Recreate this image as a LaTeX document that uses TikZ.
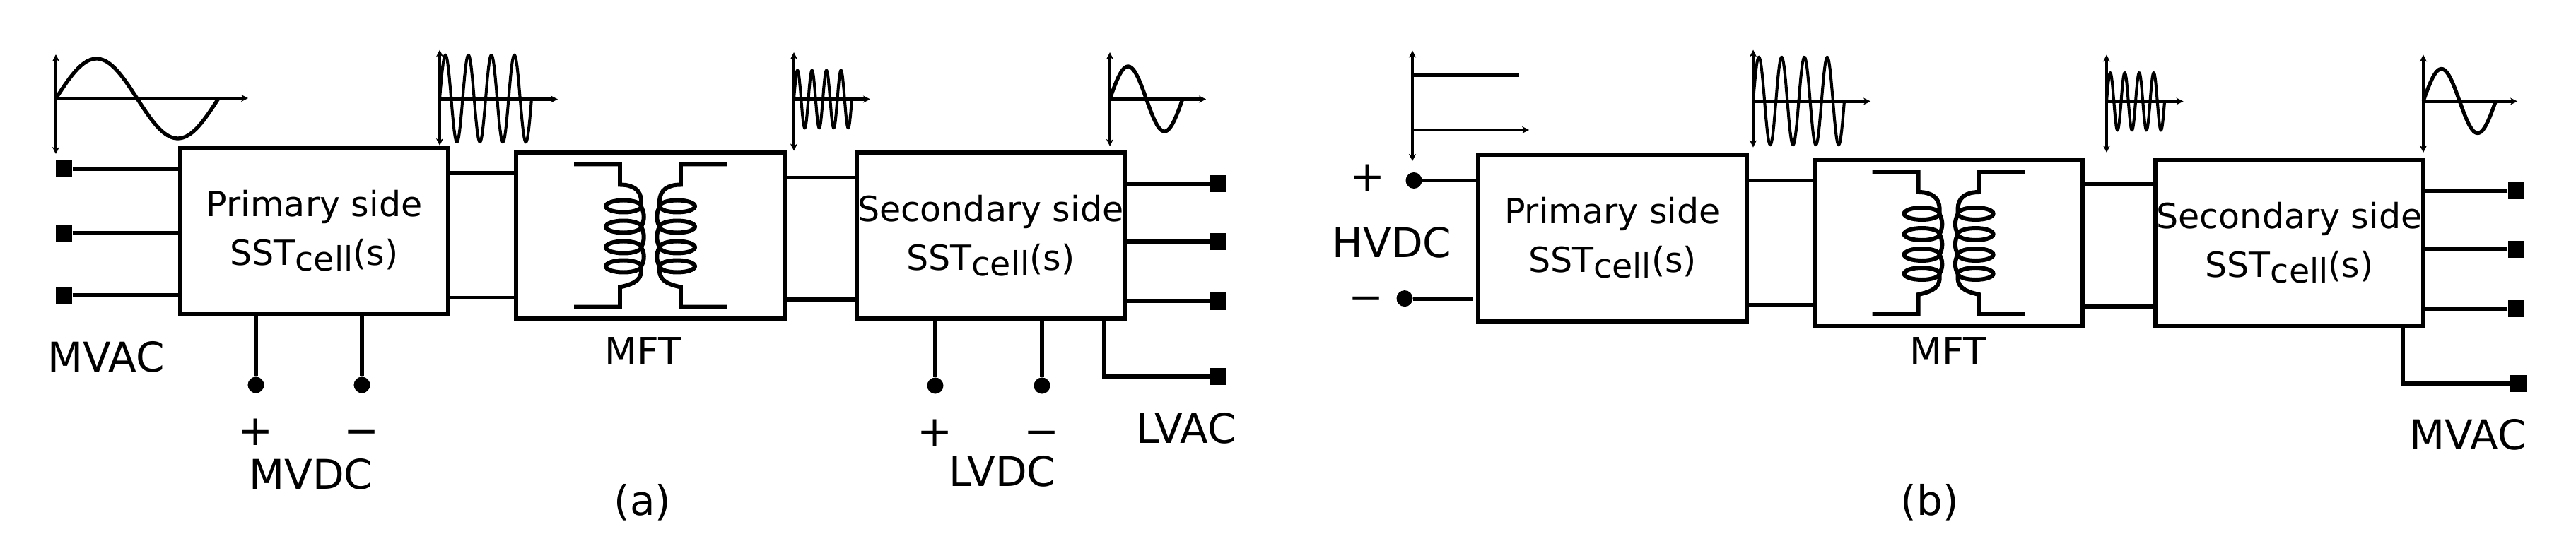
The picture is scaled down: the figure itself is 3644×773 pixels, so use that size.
\documentclass[tikz,border=0pt]{standalone}
\usepackage{fontspec}
\setmainfont{DejaVu Sans}
\usetikzlibrary{arrows.meta}

\newcommand{\mycell}{SST\raisebox{-2.4pt}{\fontsize{13.5}{13.5}\selectfont cell}(s)} % подпись ячейки
% ось: x, верх, низ, y нуля, конец
\newcommand{\myaxes}[5]{\draw[myaxis, {Stealth[length=1mm,width=1mm]}-{Stealth[length=1mm,width=1mm]}] (#1,#2) -- (#1,#3);
    \draw[myaxis, -{Stealth[length=1mm,width=1mm]}] (#1,#4) -- (#5,#4);}
% синус: x, y нуля, период, амплитуда, число периодов, стиль
\newcommand{\mywave}[6]{\draw[#6] plot[domain=0:360*#5, samples=60*#5, smooth] ({#1+\x/360*#3},{#2-#4*sin(\x)});}
% половина обмотки, начало координат в центре трансформатора
\newcommand{\mycoil}{\draw[mywire] (-108,-101) -- (-43,-101) -- (-43,-72) .. controls (-25,-72) and (-13,-65) .. (-13,-48) -- (-13,-41)
        .. controls (-8,-31) and (-8,-22) .. (-13,-12.5) .. controls (-8,-3) and (-8,7) .. (-13,16.5)
        .. controls (-8,25) and (-8,35) .. (-13,43.5) -- (-13,50) .. controls (-13,66) and (-30,70) .. (-43,73) -- (-43,101) -- (-108,101);
    \foreach \yc in {-41.5,-12.5,16.5,43.5} \draw[mywire] (-38,\yc) ellipse [x radius=25, y radius=8.5];}

\begin{document}
\begin{tikzpicture}[x=0.01cm, y=-0.01cm]
\tikzstyle{myaxis} = [line width=1.2pt] % оси
\tikzstyle{mywire} = [line width=1.7pt] % провода
\tikzstyle{mysine} = [line width=1.5pt] % низкая частота
\tikzstyle{myhf} = [line width=1.15pt] % высокая частота
\tikzstyle{mybox} = [draw, line width=1.7pt, minimum width=3.79cm, minimum height=2.35cm, inner sep=0pt, align=center, font=\fontsize{13.95}{19.6}\selectfont] % блок
\tikzstyle{mysquare} = [fill, minimum width=0.23cm, minimum height=0.24cm, inner sep=0pt] % клемма AC
\tikzstyle{mydot} = [circle, fill, minimum size=0.23cm, inner sep=0pt] % клемма DC
\tikzstyle{mylabel} = [inner sep=0pt, font=\fontsize{16.5}{20}\selectfont] % подписи
\tikzstyle{mysign} = [inner sep=0pt, text height=10.7pt, text depth=0pt, font=\fontsize{17}{20}\selectfont] % знаки
\useasboundingbox (0,0) rectangle (3644,773);

% схема (a)
\node[mybox] (pa) at (444.5,327) {Primary side\\\mycell};
\node[mybox] (ma) at (920,333.5) {};
\node[mybox] (sa) at (1401.5,333.5) {Secondary side\\\mycell};
\node[mysquare] (i1) at (90.5,239) {};
\node[mysquare] (i2) at (90.5,330) {};
\node[mysquare] (i3) at (90.5,418) {};
\foreach \n in {i1,i2,i3} \draw[mywire] (\n) -- (\n -| pa.west);
\coordinate (c1) at (680,245);
\coordinate (c2) at (680,421.5);
\coordinate (c3) at (1160,251.5);
\coordinate (c4) at (1160,424);
\draw[mywire] (c1 -| pa.east) -- (c1 -| ma.west);
\draw[mywire] (c2 -| pa.east) -- (c2 -| ma.west);
\draw[mywire] (c3 -| ma.east) -- (c3 -| sa.west);
\draw[mywire] (c4 -| ma.east) -- (c4 -| sa.west);
\begin{scope}[shift={(ma.center)}]
    \mycoil
    \begin{scope}[xscale=-1] \mycoil \end{scope}
\end{scope}
\node[mydot] (d1) at (362,545) {};
\node[mydot] (d2) at (512,545) {};
\draw[mywire] (d1) -- (d1 |- pa.south);
\draw[mywire] (d2) -- (d2 |- pa.south);
\node[mysquare] (o1) at (1723,260) {};
\node[mysquare] (o2) at (1723,342) {};
\node[mysquare] (o3) at (1723,426.5) {};
\node[mysquare] (o4) at (1723,533) {};
\foreach \n in {o1,o2,o3} \draw[mywire] (\n) -- (\n -| sa.east);
\coordinate (c5) at (1562,533);
\draw[mywire] (o4) -- (c5) -- (c5 |- sa.south);
\node[mydot] (d3) at (1323,546) {};
\node[mydot] (d4) at (1474,546) {};
\draw[mywire] (d3) -- (d3 |- sa.south);
\draw[mywire] (d4) -- (d4 |- sa.south);
\node[mylabel] (l1) at (150,505) {MVAC};
\node[mylabel] (l2) at (440,671) {MVDC};
\node[mysign] (s1) at (362,611.5) {+};
\node[mysign] (s2) at (512,611.5) {−};
\node[mylabel, font=\fontsize{15.2}{18}\selectfont] (l3) at (910,497.5) {MFT};
\node[mylabel] (l4) at (909,711) {(a)};
\node[mylabel] (l5) at (1418,667.5) {LVDC};
\node[mylabel] (l6) at (1678,606) {LVAC};
\node[mysign] (s3) at (1323,613) {+};
\node[mysign] (s4) at (1474,613) {−};
\myaxes{79}{77}{218}{139}{351}
\mywave{79}{139.5}{230}{56.5}{1}{mysine}
\myaxes{622}{70.5}{206}{140.5}{789}
\mywave{622}{139.5}{32.5}{61.5}{4}{myhf}
\myaxes{1123}{74}{213.5}{140.5}{1231}
\mywave{1123}{140.4}{20.5}{40.7}{4}{myhf}
\myaxes{1570}{74}{207}{140.5}{1706}
\mywave{1570}{140}{103}{46}{1}{mysine}

% схема (b)
\node[mybox] (pb) at (2281,337) {Primary side\\\mycell};
\node[mybox] (mb) at (2756.6,344) {};
\node[mybox] (sb) at (3238.5,344) {Secondary side\\\mycell};
\node[mydot] (d5) at (2000,255.5) {};
\node[mydot] (d6) at (1987,422.6) {};
\coordinate (c6) at (2084,422.6);
\draw[mywire] (d5) -- (d5 -| pb.west);
\draw[mywire] (d6) -- (c6);
\coordinate (c7) at (2520,255.5);
\coordinate (c8) at (2520,432);
\coordinate (c9) at (3000,261);
\coordinate (c10) at (3000,434);
\draw[mywire] (c7 -| pb.east) -- (c7 -| mb.west);
\draw[mywire] (c8 -| pb.east) -- (c8 -| mb.west);
\draw[mywire] (c9 -| mb.east) -- (c9 -| sb.west);
\draw[mywire] (c10 -| mb.east) -- (c10 -| sb.west);
\begin{scope}[shift={(mb.center)}]
    \mycoil
    \begin{scope}[xscale=-1] \mycoil \end{scope}
\end{scope}
\node[mysquare] (o5) at (3559.5,270) {};
\node[mysquare] (o6) at (3559.5,353) {};
\node[mysquare] (o7) at (3559.5,437) {};
\node[mysquare] (o8) at (3562,543.4) {};
\foreach \n in {o5,o6,o7} \draw[mywire] (\n) -- (\n -| sb.east);
\coordinate (c11) at (3398.5,543.4);
\draw[mywire] (o8) -- (c11) -- (c11 |- sb.south);
\node[mysign] (s5) at (1935,252) {+};
\node[mysign] (s6) at (1933,422.6) {−};
\node[mylabel] (l7) at (1969,343) {HVDC};
\node[mylabel, font=\fontsize{15.2}{18}\selectfont] (l8) at (2756,497.5) {MFT};
\node[mylabel] (l9) at (2730,711) {(b)};
\node[mylabel] (l10) at (3491,615) {MVAC};
\draw[myaxis, {Stealth[length=1mm,width=1mm]}-{Stealth[length=1mm,width=1mm]}] (1998,71.5) -- (1998,228);
\draw[myaxis, -{Stealth[length=1mm,width=1mm]}] (1998,184) -- (2163,184);
\draw[mywire] (1998,106) -- (2148.5,106);
\myaxes{2480}{70.5}{208.6}{143.5}{2646}
\mywave{2480}{143}{32.25}{62}{4}{myhf}
\myaxes{2980}{77.4}{216}{143.5}{3088.5}
\mywave{2980}{143.7}{20.5}{40.5}{4}{myhf}
\myaxes{3428}{77.4}{216}{143.5}{3561}
\mywave{3428}{143}{102.5}{45.5}{1}{mysine}
\end{tikzpicture}
\end{document}
